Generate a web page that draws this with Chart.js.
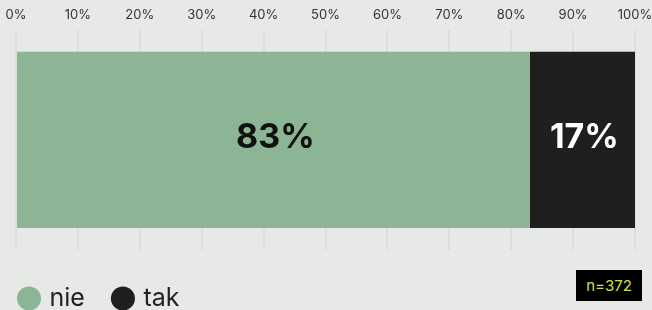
<!DOCTYPE html>
<html>
<head>
<meta charset="utf-8">
<script src="https://cdn.jsdelivr.net/npm/chart.js@4"></script>
<style>
  html, body { margin: 0; padding: 0; background: #e7e9e6; }
  #wrap { position: relative; width: 652px; height: 310px; }
  #sample {
    position: absolute; left: 576px; top: 270px; width: 66px; height: 31px;
    background: #000; color: #d3e04c; font: 15px Inter, sans-serif;
    display: flex; align-items: center; justify-content: center;
  }
</style>
</head>
<body>
<div id="wrap">
  <canvas id="chart" width="652" height="310"></canvas>
  <div id="sample">n=372</div>
</div>
<script>
// dane
var categories = [""];
var seriesNames = ["nie", "tak"];
var nieValues = [83];
var takValues = [17];
var tickValues = [0, 10, 20, 30, 40, 50, 60, 70, 80, 90, 100];

// etykiety procentowe na środku słupków
const barLabels = {
    id: "barLabels",
    afterDatasetsDraw(chart) {
        const ctx = chart.ctx;
        ctx.save();
        ctx.font = "bold 34px Inter, sans-serif";
        ctx.textAlign = "center";
        ctx.textBaseline = "middle";
        chart.data.datasets.forEach(function (ds, i) {
            chart.getDatasetMeta(i).data.forEach(function (bar, j) {
                const p = bar.getCenterPoint();
                ctx.fillStyle = ds.labelColor;
                ctx.fillText(ds.data[j] + "%", p.x + 2, p.y - 2);
            });
        });
        ctx.restore();
    }
};

// stała wysokość legendy i przesunięcie w lewo
const legendBox = {
    id: "legendBox",
    beforeInit(chart) {
        const origFit = chart.legend.fit;
        chart.legend.fit = function () {
            origFit.bind(this)();
            this.height = 60;
        };
    },
    afterLayout(chart) {
        chart.legend.left -= 25;
    }
};

new Chart(document.getElementById("chart"), {
    type: "bar",
    data: {
        labels: categories,
        datasets: [{
            label: seriesNames[0],
            data: nieValues,
            backgroundColor: "#8bb594",
            labelColor: "#111111",
            barPercentage: 0.8,
            categoryPercentage: 1
        }, {
            label: seriesNames[1],
            data: takValues,
            backgroundColor: "#1f1f1f",
            labelColor: "#ffffff",
            barPercentage: 0.8,
            categoryPercentage: 1
        }]
    },
    options: {
        indexAxis: "y",
        responsive: false,
        animation: false,
        layout: { padding: { left: 16, right: 17, top: 0, bottom: 0 } },
        scales: {
            x: {
                position: "top",
                stacked: true,
                min: 0,
                max: 100,
                afterBuildTicks: function (axis) {
                    axis.ticks = tickValues.map(function (v) { return { value: v }; });
                },
                afterFit: function (axis) {
                    axis.paddingLeft = 0;
                    axis.paddingRight = 0;
                },
                border: { display: false },
                grid: { color: "#dcdedb", lineWidth: 2, drawTicks: false },
                ticks: {
                    padding: 7,
                    color: "#333333",
                    font: { family: "Inter, sans-serif", size: 13 },
                    maxRotation: 0,
                    callback: function (value) { return value + "%"; }
                }
            },
            y: { stacked: true, display: false }
        },
        plugins: {
            legend: {
                position: "bottom",
                align: "start",
                title: { display: true, text: " ", font: { size: 6, lineHeight: 1 }, padding: 0 },
                labels: {
                    usePointStyle: true,
                    pointStyle: "circle",
                    boxWidth: 16,
                    boxHeight: 17,
                    padding: 30,
                    color: "#222222",
                    font: { family: "Inter, sans-serif", size: 25 }
                }
            },
            tooltip: { enabled: false }
        }
    },
    plugins: [barLabels, legendBox]
});
</script>
</body>
</html>
